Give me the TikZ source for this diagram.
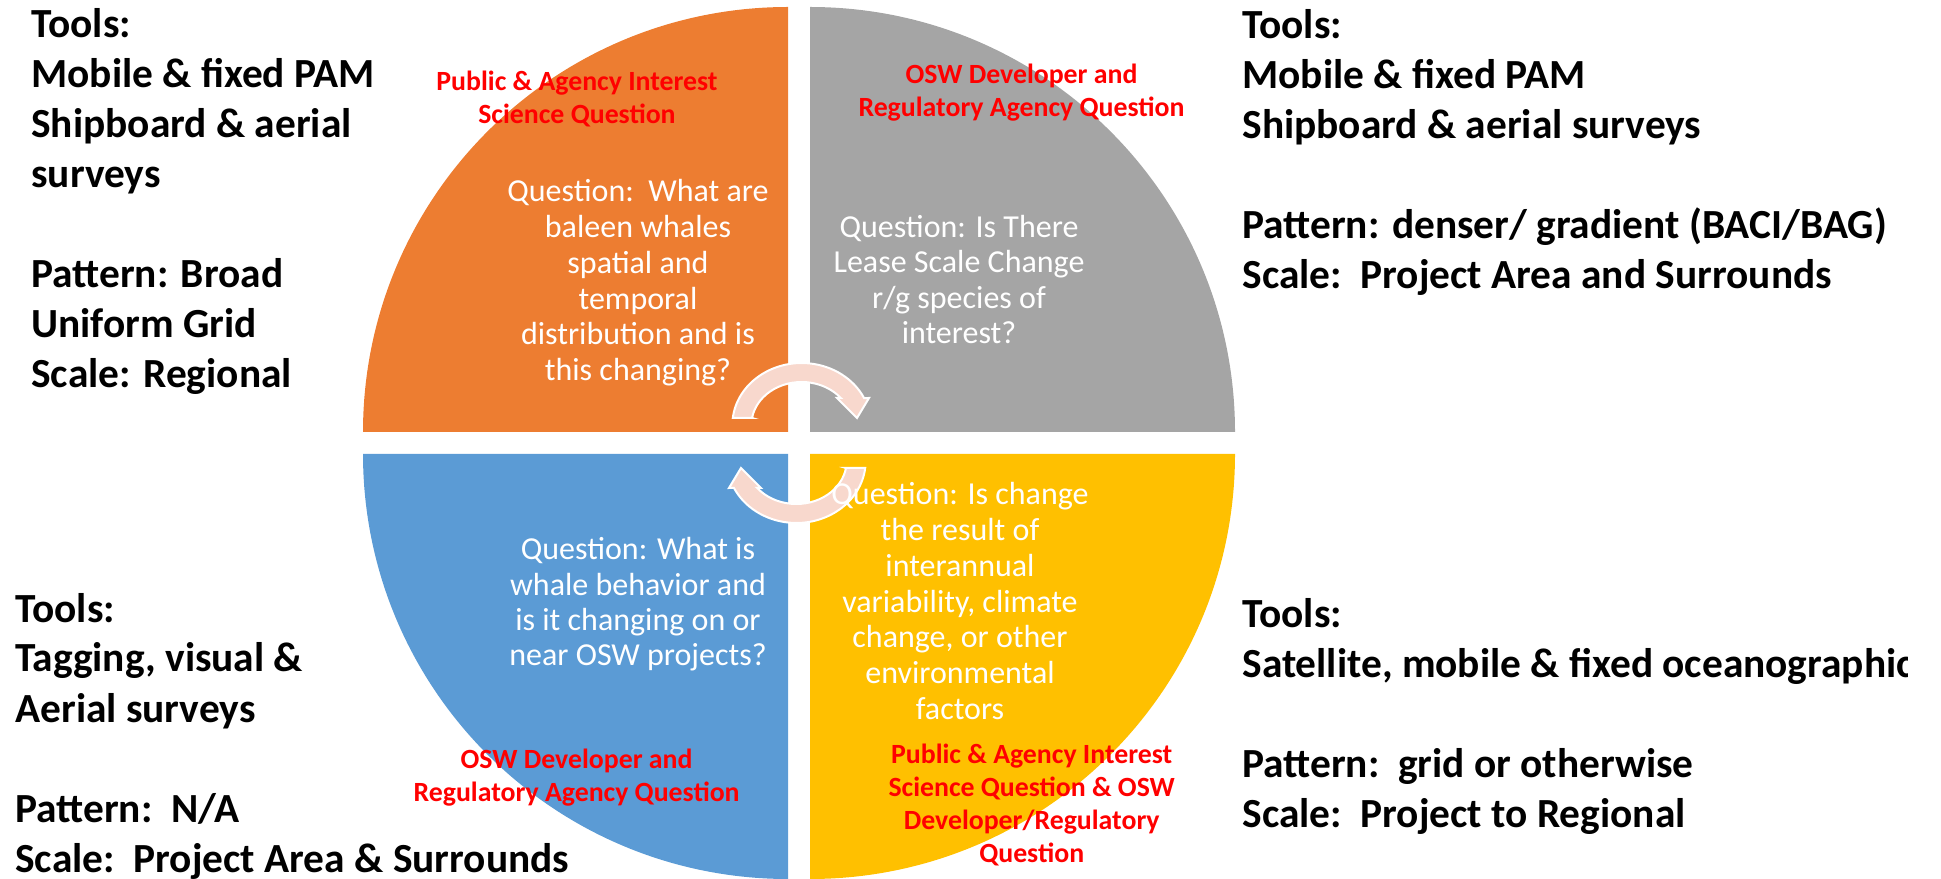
\documentclass[tikz,border=0pt]{standalone}
\usepackage{fontspec}
\setmainfont{Carlito}
\usetikzlibrary{calc}
\definecolor{qorange}{HTML}{ED7D31}
\definecolor{qgray}{HTML}{A5A5A5}
\definecolor{qblue}{HTML}{5B9BD5}
\definecolor{qyellow}{HTML}{FFC000}
\definecolor{arrowpink}{HTML}{F8D8CD}
\definecolor{qred}{HTML}{FF0000}
\newcommand{\vlinesL}[3]{\vtop{\fontsize{#1}{#2}\selectfont\halign{##\hfil\cr #3\crcr}}}
\newcommand{\vlinesC}[3]{\vtop{\fontsize{#1}{#2}\selectfont\halign{\hfil##\hfil\cr #3\crcr}}}
\tikzset{
  toolstext/.style={anchor=base west, inner sep=0pt, text=black, font=\bfseries},
  questext/.style={anchor=base, inner sep=0pt, text=white},
  redtext/.style={anchor=base, inner sep=0pt, text=qred, font=\bfseries},
  cyclearrow/.style={fill=arrowpink, draw=white, line width=1pt, line join=miter},
}
\begin{document}
\begin{tikzpicture}[x=0.5pt,y=0.5pt]
\useasboundingbox (0,0) rectangle (1941,878);
% quadrants
\fill[qorange] (788,446) -- (363,446) arc[start angle=180,end angle=90,radius=425] -- cycle;
\fill[qgray] (810,446) -- (810,871) arc[start angle=90,end angle=0,radius=425] -- cycle;
\fill[qblue] (788,424) -- (363,424) arc[start angle=180,end angle=270,radius=425] -- cycle;
\fill[qyellow] (810,424) -- (1235,424) arc[start angle=0,end angle=-90,radius=425] -- cycle;
% circular arrows
\draw[cyclearrow] (752.1,460) -- (732.8,460)
  arc[start angle=173.5,end angle=25.8,x radius=69.3,y radius=62]
  -- (869,480) -- (857,460) -- (837,480) -- (840.8,480)
  arc[start angle=38.9,end angle=170.6,x radius=50.3,y radius=43] -- cycle;
\begin{scope}[rotate around={180:(799,435)}]
\draw[cyclearrow] (752.1,460) -- (732.8,460)
  arc[start angle=173.5,end angle=25.8,x radius=69.3,y radius=62]
  -- (869,480) -- (857,460) -- (837,480) -- (840.8,480)
  arc[start angle=38.9,end angle=170.6,x radius=50.3,y radius=43] -- cycle;
\end{scope}
% white question texts
\node[questext] (qo) at (638,676.3) {\vlinesC{16pt}{17.9pt}{Question:\ \ What are\cr baleen whales\cr spatial and\cr temporal\cr distribution and is\cr this changing?}};
\node[questext] (qg) at (959,640.7) {\vlinesC{16pt}{17.7pt}{Question: Is There\cr Lease Scale Change\cr r/g species of\cr interest?}};
\node[questext] (qb) at (638,318) {\vlinesC{16pt}{17.6pt}{Question: What is\cr whale behavior and\cr is it changing on or\cr near OSW projects?}};
\node[questext] (qy) at (960,373) {\vlinesC{16pt}{17.85pt}{Question: Is change\cr the result of\cr interannual\cr variability, climate\cr change, or other\cr environmental\cr factors}};
% red labels
\node[redtext] (ro) at (577,787.3) {\vlinesC{13.9pt}{16.65pt}{Public \& Agency Interest\cr Science Question}};
\node[redtext] (rg) at (1021.5,794.7) {\vlinesC{13.9pt}{16.65pt}{OSW Developer and\cr Regulatory Agency Question}};
\node[redtext] (rb) at (576.6,109.7) {\vlinesC{13.9pt}{16.65pt}{OSW Developer and\cr Regulatory Agency Question}};
\node[redtext] (ry) at (1031.7,114.7) {\vlinesC{13.9pt}{16.55pt}{Public \& Agency Interest\cr Science Question \& OSW\cr Developer/Regulatory\cr Question}};
% black tool texts
\node[toolstext] (tlt) at (31,840) {\vlinesL{20.7pt}{25pt}{Tools:\cr Mobile \& fixed PAM\cr Shipboard \& aerial\cr surveys\cr \cr Pattern: Broad\cr Uniform Grid\cr Scale: Regional}};
\node[toolstext] (trt) at (1242,839) {\vlinesL{20.7pt}{25pt}{Tools:\cr Mobile \& fixed PAM\cr Shipboard \& aerial surveys\cr \cr Pattern: denser/ gradient (BACI/BAG)\cr Scale:\ \ Project Area and Surrounds}};
\node[toolstext] (tlb) at (15,256) {\vlinesL{20.7pt}{25pt}{Tools:\cr Tagging, visual \&\cr Aerial surveys\cr \cr Pattern:\ \ N/A\cr Scale:\ \ Project Area \& Surrounds}};
\begin{scope}
\clip (1230,0) rectangle (1907,878);
\node[toolstext] (trb) at (1242,250) {\vlinesL{20.7pt}{25pt}{Tools:\cr Satellite, mobile \& fixed oceanographic\cr \cr Pattern:\ \ grid or otherwise\cr Scale:\ \ Project to Regional}};
\end{scope}
\end{tikzpicture}
\end{document}
